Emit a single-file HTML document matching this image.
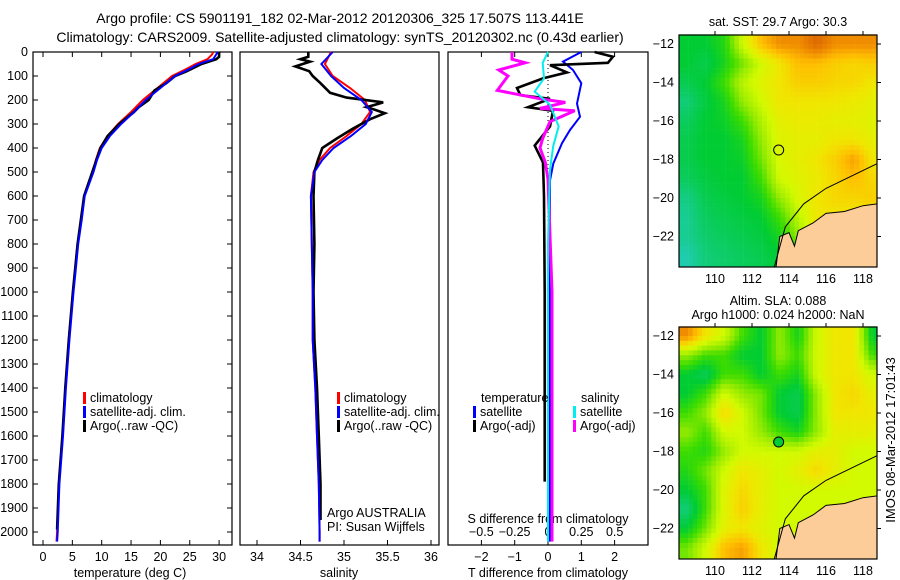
<!DOCTYPE html>
<html><head><meta charset="utf-8">
<style>
body{margin:0;background:#fff;}
svg{display:block;font-family:"Liberation Sans",sans-serif;font-size:12.5px;}
</style></head>
<body>
<svg id="c" width="900" height="580" viewBox="0 0 900 580">
<text x="340" y="23" text-anchor="middle" font-size="14">Argo profile: CS 5901191_182 02-Mar-2012 20120306_325 17.507S 113.441E</text>
<text x="340" y="42" text-anchor="middle" font-size="14">Climatology: CARS2009. Satellite-adjusted climatology: synTS_20120302.nc (0.43d earlier)</text>
<g id="g"></g>
<text transform="translate(895,440) rotate(-90)" text-anchor="middle" font-size="13">IMOS 08-Mar-2012 17:01:43</text>
</svg>
<script>
// ---- data ----
const tClimD=[0,10,30,50,70,100,150,200,250,300,350,400,450,500,600,700,800,900,1000,1200,1400,1600,1800,2000,2040];
const tClim=[29,28.8,28,26,24.5,22,19.5,17,15,12.8,11,9.7,9,8.5,7,6.5,5.9,5.5,5.1,4.4,3.8,3.3,2.7,2.4,2.3];
const tSat=[29.8,29.5,29,26.5,25,22.5,20,17.5,15.5,13.3,11.4,10,9.2,8.6,7.1,6.6,6,5.6,5.2,4.5,3.9,3.4,2.8,2.5,2.4];
const tArgoD=[0,20,30,50,80,100,130,160,180,200,230,250,300,350,400,500,600,800,1000,1200,1400,1600,1800,1990];
const tArgo=[30,30,29.5,27,24.5,22.5,21,19,18.5,18,16.3,15.5,13,11,9.8,8.4,7,5.9,5.1,4.4,3.8,3.3,2.7,2.4];
const sClimD=[0,50,100,150,200,250,300,350,400,450,500,600,800,1000,1200,1400,1600,1800,2000,2040];
const sClim=[34.85,34.78,34.87,35.07,35.24,35.3,35.2,35.03,34.84,34.72,34.65,34.62,34.63,34.64,34.64,34.67,34.69,34.71,34.72,34.72];
const sSat=[34.87,34.74,34.85,35.0,35.2,35.32,35.25,35.08,34.88,34.75,34.66,34.62,34.63,34.64,34.64,34.67,34.69,34.71,34.72,34.72];
const sArgoD=[0,20,30,40,60,80,100,130,170,190,210,230,240,255,280,320,360,400,450,500,600,800,1000,1200,1400,1600,1800,1950];
const sArgo=[34.59,34.59,34.5,34.61,34.44,34.6,34.64,34.73,34.84,35.03,35.45,35.26,35.35,35.47,35.3,35.1,34.92,34.75,34.7,34.66,34.65,34.66,34.65,34.66,34.69,34.71,34.73,34.73];
const dTsD=[0,40,75,130,215,270,325,380,465,535,800,1200,1600,2040];
const dTs=[1.0,0.45,0.75,1.0,0.87,0.96,0.66,0.42,0.16,0.06,0.05,0.05,0.05,0.05];
const dTaD=[0,20,45,55,85,110,150,180,195,230,245,310,390,460,600,1000,1400,1790];
const dTa=[1.4,1.95,1.8,0.06,0.57,-0.15,-0.93,-0.83,0.06,-0.6,0.15,0.06,-0.4,-0.15,-0.12,-0.1,-0.1,-0.1];
const dSaD=[0,30,45,75,100,160,195,210,235,245,290,360,400,460,530,1000,1500,2040];
const dSa=[-0.27,-0.27,-0.17,-0.37,-0.3,-0.38,-0.06,0.13,-0.06,0.2,0.015,-0.04,-0.06,-0.02,0.0,0.03,0.03,0.03];
const dSsD=[0,45,110,165,220,310,390,490,800,2040];
const dSs=[0,-0.04,-0.03,-0.1,0.015,0.08,0.04,0.015,0.0,0.0];
const depthTicks=[0,100,200,300,400,500,600,700,800,900,1000,1100,1200,1300,1400,1500,1600,1700,1800,1900,2000];
const tTicks=[0,5,10,15,20,25,30];
const sTicks=[34,34.5,35,35.5,36];
const dTTicks=[-2,-1,0,1,2];
const dSTicks=[-0.5,-0.25,0,0.25,0.5];
const latTicks=[-12,-14,-16,-18,-20,-22];
const lonTicks=[110,112,114,116,118];
const gLats=[-12,-13,-14,-15,-16,-17,-18,-19,-20,-21,-22,-23];
const gLons=[108.5,109.5,110.5,111.5,112.5,113.5,114.5,115.5,116.5,117.5,118.5];
const sstGrid=[
[1,1,1.3,2.5,3.5,4,4,4.5,4,4,4],
[1,0.8,1.2,1.8,2.5,3,3.5,3.5,3.3,3.2,3.3],
[0.8,1,1.5,2.3,2.7,3,3.3,3.3,3.2,3.2,3],
[0.5,0.9,1.2,2,2.5,3,3,3,3,2.9,2.8],
[0.7,1,1.1,1.5,2.2,2.8,2.9,2.9,2.8,2.8,2.7],
[0.8,1,1,1.2,2,2.7,2.8,2.8,3,3,2.8],
[0.8,1,1,1.1,1.8,2.6,2.8,3,3.3,3.8,3],
[0.7,0.9,1,1,1.5,2.5,2.7,2.9,3.2,3.5,3.2],
[0.4,0.8,0.9,1,1.2,2,2.6,3,3.2,3.2,3.3],
[0.3,0.7,0.8,0.9,1,1.5,2.3,3,3,3,3],
[0.3,0.6,0.7,0.8,0.9,1.2,2,3,3,3,3],
[0.1,0.5,0.6,0.7,0.8,1,1,3,3,3,3]];
const slaGrid=[
[4,3,2.5,1.5,1,2,1.2,2.5,3,3,1],
[2,1.5,1.5,1,1,2,1.5,2.5,3,3,1.5],
[1,0.7,1.5,1.5,1,1.5,1.2,2.5,3,3,2.5],
[1,1.5,2.5,2,1.8,1,0.8,2,3,3.2,2.8],
[1.5,2,3.2,2.5,1.8,1,0.8,2,3,3,3],
[2,1.5,2.5,2.5,2,1.5,1.2,2,2.8,2.8,2.8],
[1.5,1.3,2,2.5,2.5,2.5,2.5,2.8,2.8,2.5,2.5],
[1.3,1.8,2.5,3,2.8,2.5,2.8,3.2,2.8,2.5,2.5],
[1,1.5,2.7,3.2,2.8,2.5,2.5,2.5,2.5,2.5,2.5],
[0.5,1.5,2.7,3.3,2.8,2.5,2.5,2.5,2.5,2.5,2.5],
[1,1.8,2.8,3,2.7,2.5,2.5,2.5,2.5,2.5,2.5],
[1.8,2.5,3.5,3.8,3,2.5,2.5,2.5,2.5,2.5,2.5]];
const landLon=[113.3,113.5,114,114.3,114.5,115.3,116,117,118,118.8,118.8];
const landLat=[-23.6,-22,-21.8,-22.5,-21.7,-21.3,-20.8,-20.7,-20.4,-20.3,-23.6];
const isoLon=[113.2,113.8,114.8,116,117.5,118.8];
const isoLat=[-23.6,-21.5,-20.3,-19.5,-18.8,-18.2];
const argoLon=113.441, argoLat=-17.507;

// ---- helpers ----
const NS='http://www.w3.org/2000/svg';
const G=document.getElementById('g');
function mk(t,a,parent){const e=document.createElementNS(NS,t);for(const k in a)e.setAttribute(k,a[k]);(parent||G).appendChild(e);return e;}
const dy=d=>52+0.24*d;
const xT=v=>43+5.87*v;
const xS=v=>257+87*(v-34);
const xdT=v=>548+33.3*v;
const xdS=v=>548+133.3*v;
function line(xs,ds,fx,col,w,name,dash){
  const p=ds.map((d,i)=>fx(xs[i]).toFixed(1)+','+dy(d).toFixed(1)).join(' ');
  const e=mk('polyline',{points:p,fill:'none',stroke:col,'stroke-width':w,'stroke-linejoin':'miter'});
  if(dash)e.setAttribute('stroke-dasharray',dash);
  
  
}
function txt(x,y,s,anchor,name,size){
  const e=mk('text',{x:x,y:y,'text-anchor':anchor||'start'});
  if(size)e.setAttribute('font-size',size);
  e.textContent=s;
  
  
  return e;
}
function frame(x0,x1,name){
  const r=mk('rect',{x:x0,y:52,width:x1-x0,height:493,fill:'none',stroke:'#000','stroke-width':1.2});
  
  
}
function legend(x,y,items,name){
  items.forEach((it,i)=>{
    const r=mk('rect',{x:x,y:y+i*14-10,width:3,height:12,fill:it[0]});
    
    
    txt(x+7,y+i*14,it[1],'start',name+'-label');
  });
}

// ---- panel 1: temperature ----
frame(33,232,'temperature-panel');
depthTicks.forEach(d=>{
  txt(28,dy(d)+4,String(d),'end','depth-tick-label');
  const a=mk('line',{x1:33,x2:38,y1:dy(d),y2:dy(d),stroke:'#000'});
  
  const b=mk('line',{x1:227,x2:232,y1:dy(d),y2:dy(d),stroke:'#000'});
  
});
tTicks.forEach(v=>{
  txt(xT(v),561,String(v),'middle','temperature-tick-label');
  const a=mk('line',{x1:xT(v),x2:xT(v),y1:540,y2:545,stroke:'#000'});
  
  const b=mk('line',{x1:xT(v),x2:xT(v),y1:52,y2:57,stroke:'#000'});
  
});
txt(130,577,'temperature (deg C)','middle','temperature-axis-title');
line(tClim,tClimD,xT,'#f00',2,'temperature-climatology-line');
line(tArgo,tArgoD,xT,'#000',2.6,'temperature-argo-line');
line(tSat,tClimD,xT,'#00f',2,'temperature-satellite-line');
legend(83,402,[['#f00','climatology'],['#00f','satellite-adj. clim.'],['#000','Argo(..raw -QC)']],'temperature-legend');

// ---- panel 2: salinity ----
frame(240,439,'salinity-panel');
sTicks.forEach(v=>{
  txt(xS(v),561,String(v),'middle','salinity-tick-label');
  const a=mk('line',{x1:xS(v),x2:xS(v),y1:540,y2:545,stroke:'#000'});
  
});
txt(339,577,'salinity','middle','salinity-axis-title');
line(sClim,sClimD,xS,'#f00',2,'salinity-climatology-line');
line(sArgo,sArgoD,xS,'#000',2.6,'salinity-argo-line');
line(sSat,sClimD,xS,'#00f',2,'salinity-satellite-line');
legend(337,402,[['#f00','climatology'],['#00f','satellite-adj. clim.'],['#000','Argo(..raw -QC)']],'salinity-legend');
txt(327,517,'Argo AUSTRALIA','start','argo-country-label');
txt(327,531,'PI: Susan Wijffels','start','pi-label');

// ---- panel 3: differences ----
frame(448,648,'difference-panel');
dTTicks.forEach(v=>{
  txt(xdT(v),561,String(v).replace('-','\u2212'),'middle','t-diff-tick-label');
  const a=mk('line',{x1:xdT(v),x2:xdT(v),y1:540,y2:545,stroke:'#000'});
  
  const b=mk('line',{x1:xdT(v),x2:xdT(v),y1:52,y2:57,stroke:'#000'});
  
});
dSTicks.forEach(v=>txt(xdS(v),536,String(v).replace('-','\u2212'),'middle','s-diff-tick-label'));
txt(548,523,'S difference from climatology','middle','s-diff-axis-title');
txt(548,577,'T difference from climatology','middle','t-diff-axis-title');
{const z=mk('line',{x1:548,x2:548,y1:52,y2:545,stroke:'#000','stroke-dasharray':'1,3'});
}
line(dTs,dTsD,xdT,'#00f',2,'t-diff-satellite-line');
line(dTa,dTaD,xdT,'#000',2.6,'t-diff-argo-line');
line(dSa,dSaD,xdS,'#f0f',3,'s-diff-argo-line');
line(dSs,dSsD,xdS,'#0ee',2,'s-diff-satellite-line');
txt(481,402,'temperature','start','t-diff-legend-title');
legend(473,416,[['#00f','satellite'],['#000','Argo(-adj)']],'t-diff-legend');
txt(581,402,'salinity','start','s-diff-legend-title');
legend(573,416,[['#0ee','satellite'],['#f0f','Argo(-adj)']],'s-diff-legend');

// ---- maps ----
const stops=[[0,[34,204,187]],[1,[0,204,51]],[1.5,[60,220,0]],[2,[150,235,0]],[2.5,[210,250,0]],[3,[240,230,0]],[3.5,[255,190,0]],[4,[240,140,0]],[5,[200,70,0]]];
function col(v){
  for(let i=1;i<stops.length;i++){if(v<=stops[i][0]){const a=stops[i-1],b=stops[i],t=(v-a[0])/(b[0]-a[0]);
    return 'rgb('+a[1].map((c,k)=>Math.round(c+(b[1][k]-c)*t)).join(',')+')';}}
  return 'rgb(200,70,0)';
}
function samp(grid,lon,lat){
  let fi=(-12-lat), fj=(lon-108.5);
  fi=Math.max(0,Math.min(gLats.length-1.001,fi)); fj=Math.max(0,Math.min(gLons.length-1.001,fj));
  const i=Math.floor(fi),j=Math.floor(fj),u=fi-i,w=fj-j;
  return grid[i][j]*(1-u)*(1-w)+grid[i+1][j]*u*(1-w)+grid[i][j+1]*(1-u)*w+grid[i+1][j+1]*u*w;
}
function map(top,grid,title1,title2,name,dotFill){
  const L=679,R=877,T=top,B=top+232;
  const mx=lon=>715+18.5*(lon-110);
  const my=lat=>top+9+19.25*(-12-lat);
  const g=mk('g',{});
  
  
  for(let lat=-11.5;lat>-23.7;lat-=0.25){
    for(let lon=108.05;lon<118.8;lon+=0.25){
      mk('rect',{x:mx(lon).toFixed(1),y:my(lat).toFixed(1),width:4.9,height:5.1,fill:col(samp(grid,lon+0.125,lat-0.125))},g);
    }
  }
  const lp=landLon.map((l,i)=>mx(l).toFixed(1)+','+my(landLat[i]).toFixed(1)).join(' ');
  const land=mk('polygon',{points:lp,fill:'#fccc99',stroke:'#000','stroke-width':1},g);
  
  
  const ip=isoLon.map((l,i)=>mx(l).toFixed(1)+','+my(isoLat[i]).toFixed(1)).join(' ');
  const iso=mk('polyline',{points:ip,fill:'none',stroke:'#000','stroke-width':1},g);
  
  
  mk('rect',{x:L-5,y:B,width:R-L+12,height:6,fill:'#fff'});
  mk('rect',{x:R,y:T-2,width:8,height:B-T+6,fill:'#fff'});
  const fr=mk('rect',{x:L,y:T,width:R-L,height:B-T,fill:'none',stroke:'#000','stroke-width':1.2});
  
  
  const dot=mk('circle',{cx:mx(argoLon),cy:my(argoLat),r:5,fill:dotFill,stroke:'#000','stroke-width':1});
  
  
  latTicks.forEach(v=>{
    txt(L-5,my(v)+4,String(v).replace('-','\u2212'),'end',name+'-lat-label');
    const t=mk('line',{x1:R,x2:R+4,y1:my(v),y2:my(v),stroke:'#000'});
    
  });
  lonTicks.forEach(v=>{
    txt(mx(v),B+16,String(v),'middle',name+'-lon-label');
    const t=mk('line',{x1:mx(v),x2:mx(v),y1:T-4,y2:T,stroke:'#000'});
    
  });
  if(title2){txt(778,top-22,title1,'middle',name+'-title');txt(778,top-8,title2,'middle',name+'-subtitle');}
  else txt(778,top-9,title1,'middle',name+'-title');
}
map(35,sstGrid,'sat. SST: 29.7 Argo: 30.3',null,'sst-map','none');
map(327,slaGrid,'Altim. SLA: 0.088','Argo h1000: 0.024 h2000: NaN','sla-map','#0c3');
</script>
</body></html>
